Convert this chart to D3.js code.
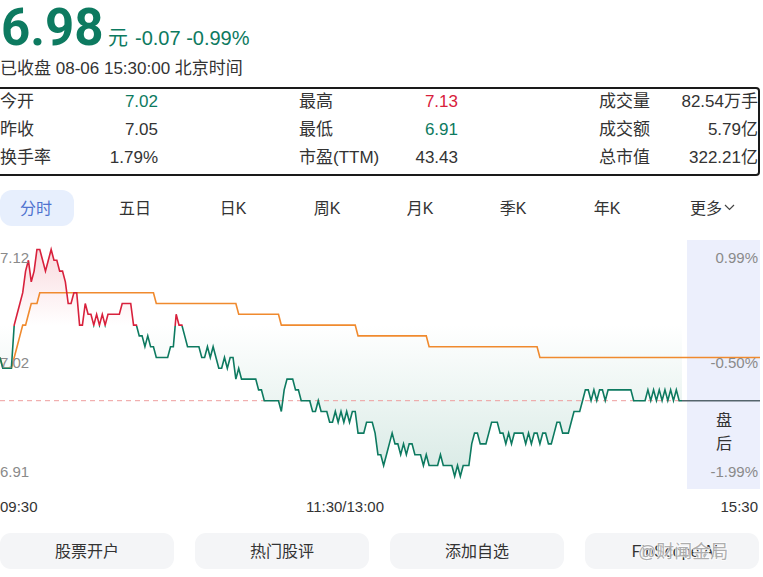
<!DOCTYPE html>
<html>
<head>
<meta charset="utf-8">
<script src="https://cdn.jsdelivr.net/npm/d3@7"></script>
<style>
  body { margin: 0; background: #fff; }
  text { font-family: "Liberation Sans", "Noto Sans CJK SC", sans-serif; }
</style>
</head>
<body>
<div id="chart"></div>
<script>
// header / quote data
var lastPrice = "6.98";
var changeText = "-0.07 -0.99%";
var statusText = "已收盘 08-06 15:30:00 北京时间";
var statLabels = [["今开", "昨收", "换手率"], ["最高", "最低", "市盈(TTM)"], ["成交量", "成交额", "总市值"]];
var statValues = [["7.02", "7.05", "1.79%"], ["7.13", "6.91", "43.43"], ["82.54万手", "5.79亿", "322.21亿"]];
var statColors = [["down", "flat", "flat"], ["up", "down", "flat"], ["flat", "flat", "flat"]];
var tabs = ["分时", "五日", "日K", "周K", "月K", "季K", "年K", "更多"];
var buttons = ["股票开户", "热门股评", "添加自选", "FinScope AI"];

// intraday minute data, 09:30-11:30 + 13:00-15:00 (241 points)
var prices = [
  7.02,7.01,7.01,7.01,7.01,7.05,7.06,7.07,7.08,7.10,
  7.11,7.09,7.10,7.12,7.12,7.11,7.10,7.11,7.12,7.11,
  7.11,7.10,7.10,7.09,7.07,7.07,7.08,7.08,7.05,7.05,
  7.07,7.06,7.06,7.05,7.06,7.05,7.06,7.05,7.06,7.06,
  7.06,7.06,7.06,7.07,7.07,7.07,7.07,7.05,7.05,7.04,
  7.04,7.03,7.04,7.03,7.03,7.02,7.02,7.02,7.02,7.02,
  7.03,7.03,7.06,7.05,7.05,7.04,7.03,7.03,7.03,7.03,
  7.03,7.02,7.02,7.03,7.02,7.03,7.02,7.01,7.01,7.02,
  7.01,7.02,7.02,7.00,7.01,7.00,7.00,7.00,7.00,7.00,
  7.00,6.99,6.99,6.98,6.98,6.98,6.98,6.98,6.98,6.97,
  6.99,7.00,7.00,7.00,6.99,6.99,6.98,6.98,6.98,6.98,
  6.97,6.97,6.98,6.97,6.97,6.97,6.96,6.96,6.97,6.96,
  6.97,6.96,6.97,6.96,6.97,6.97,6.95,6.95,6.95,6.96,
  6.96,6.96,6.95,6.93,6.93,6.92,6.93,6.94,6.95,6.94,
  6.94,6.93,6.94,6.93,6.94,6.94,6.93,6.93,6.93,6.92,
  6.93,6.92,6.92,6.92,6.92,6.93,6.92,6.92,6.92,6.92,
  6.91,6.92,6.91,6.92,6.92,6.92,6.94,6.95,6.95,6.94,
  6.94,6.94,6.95,6.96,6.96,6.96,6.95,6.95,6.94,6.95,
  6.94,6.95,6.95,6.95,6.95,6.94,6.95,6.94,6.95,6.95,
  6.94,6.95,6.95,6.94,6.94,6.95,6.96,6.96,6.95,6.95,
  6.95,6.96,6.97,6.97,6.97,6.98,6.99,6.99,6.98,6.99,
  6.98,6.99,6.99,6.98,6.99,6.99,6.99,6.99,6.99,6.99,
  6.99,6.99,6.99,6.98,6.98,6.98,6.98,6.98,6.99,6.98,
  6.99,6.98,6.99,6.98,6.99,6.98,6.99,6.98,6.99,6.98,6.98
];
var avgPrices = [
  7.02,7.01,7.01,7.01,7.01,7.02,7.03,7.04,7.05,7.05,
  7.06,7.07,7.07,7.07,7.08,7.08,7.08,7.08,7.08,7.08,
  7.08,7.08,7.08,7.08,7.08,7.08,7.08,7.08,7.08,7.08,
  7.08,7.08,7.08,7.08,7.08,7.08,7.08,7.08,7.08,7.08,
  7.08,7.08,7.08,7.08,7.08,7.08,7.08,7.08,7.08,7.08,
  7.08,7.08,7.08,7.08,7.08,7.07,7.07,7.07,7.07,7.07,
  7.07,7.07,7.07,7.07,7.07,7.07,7.07,7.07,7.07,7.07,
  7.07,7.07,7.07,7.07,7.07,7.07,7.07,7.07,7.07,7.07,
  7.07,7.07,7.07,7.07,7.06,7.06,7.06,7.06,7.06,7.06,
  7.06,7.06,7.06,7.06,7.06,7.06,7.06,7.06,7.06,7.05,
  7.05,7.05,7.05,7.05,7.05,7.05,7.05,7.05,7.05,7.05,
  7.05,7.05,7.05,7.05,7.05,7.05,7.05,7.05,7.05,7.05,
  7.05,7.05,7.05,7.05,7.05,7.05,7.04,7.04,7.04,7.04,
  7.04,7.04,7.04,7.04,7.04,7.04,7.04,7.04,7.04,7.04,
  7.04,7.04,7.04,7.04,7.04,7.04,7.04,7.04,7.04,7.04,
  7.04,7.03,7.03,7.03,7.03,7.03,7.03,7.03,7.03,7.03,
  7.03,7.03,7.03,7.03,7.03,7.03,7.03,7.03,7.03,7.03,
  7.03,7.03,7.03,7.03,7.03,7.03,7.03,7.03,7.03,7.03,
  7.03,7.03,7.03,7.03,7.03,7.03,7.03,7.03,7.03,7.03,
  7.02,7.02,7.02,7.02,7.02,7.02,7.02,7.02,7.02,7.02,
  7.02,7.02,7.02,7.02,7.02,7.02,7.02,7.02,7.02,7.02,
  7.02,7.02,7.02,7.02,7.02,7.02,7.02,7.02,7.02,7.02,
  7.02,7.02,7.02,7.02,7.02,7.02,7.02,7.02,7.02,7.02,
  7.02,7.02,7.02,7.02,7.02,7.02,7.02,7.02,7.02,7.02,7.02
];
// after-hours 15:00-15:30, every 5 min
var postMinutes = [0, 5, 10, 15, 20, 25, 30];
var postPrices = [6.98, 6.98, 6.98, 6.98, 6.98, 6.98, 6.98];
var postAvg = [7.02, 7.02, 7.02, 7.02, 7.02, 7.02, 7.02];

var prevClose = 7.05;
var closePrice = 6.98;
var leftTicks = ["7.12", "7.02", "6.91"];
var rightTicks = ["0.99%", "-0.50%", "-1.99%"];
var timeTicks = ["09:30", "11:30/13:00", "15:30"];

var RED = "#d8213c", GREEN = "#0d7a60", ORANGE = "#f08a2e", GRAY = "#8a8a8a";

var svgWidth = 763, svgHeight = 577;
var svg = d3.select("#chart").append("svg")
  .attr("width", svgWidth)
  .attr("height", svgHeight);

// ---------- header ----------
svg.append("text").attr("x", 1).attr("y", 45)
  .style("font-family", "Roboto, sans-serif")
  .attr("font-size", 51).attr("font-weight", 700).attr("fill", GREEN)
  .text(lastPrice);
svg.append("text").attr("x", 108).attr("y", 45)
  .attr("font-size", 20).attr("fill", GREEN).text("元");
svg.append("text").attr("x", 135).attr("y", 45)
  .attr("font-size", 20).attr("fill", GREEN).text(changeText);
svg.append("text").attr("x", 0).attr("y", 74)
  .attr("font-size", 17).attr("fill", "#333").text(statusText);

// stats table
svg.append("rect")
  .attr("x", -3).attr("y", 88).attr("width", 762).attr("height", 87)
  .attr("rx", 3).attr("fill", "none").attr("stroke", "#1a1a1a").attr("stroke-width", 2);

var colLabelX = [0, 299, 599], colValueX = [158, 458, 758];
var rowY = [107, 135, 163];
var colorMap = { up: RED, down: GREEN, flat: "#333" };
statLabels.forEach(function(col, c) {
  col.forEach(function(lab, r) {
    svg.append("text").attr("x", colLabelX[c]).attr("y", rowY[r])
      .attr("font-size", 17).attr("fill", "#333").text(lab);
    svg.append("text").attr("x", colValueX[c]).attr("y", rowY[r])
      .attr("font-size", 17).attr("text-anchor", "end")
      .attr("fill", colorMap[statColors[c][r]]).text(statValues[c][r]);
  });
});

// tabs
var tabX = [36, 135, 233, 327, 420, 513, 607, 706];
svg.append("rect").attr("x", 0).attr("y", 190).attr("width", 74).attr("height", 36)
  .attr("rx", 12).attr("fill", "#e7effd");
tabs.forEach(function(t, i) {
  svg.append("text").attr("x", tabX[i]).attr("y", 214)
    .attr("text-anchor", "middle").attr("font-size", 16)
    .attr("fill", i === 0 ? "#4f73cf" : "#333").text(t);
});
svg.append("path").attr("d", "M725,205 l4.5,4.5 l4.5,-4.5")
  .attr("fill", "none").attr("stroke", "#444").attr("stroke-width", 1.2);

// ---------- chart ----------
var plotTop = 240, plotBottom = 489, mainRight = 682, postRight = 760;

var x = d3.scaleLinear().domain([0, prices.length - 1]).range([0, mainRight]);
var xPost = d3.scaleLinear().domain([0, 30]).range([mainRight, postRight]);
var y = d3.scaleLinear().domain([6.90, 7.13]).range([487.1, 238.7]);

var defs = svg.append("defs");
var redGrad = defs.append("linearGradient").attr("id", "redFill")
  .attr("gradientUnits", "userSpaceOnUse")
  .attr("x1", 0).attr("x2", 0).attr("y1", y(prevClose)).attr("y2", y(7.12));
redGrad.append("stop").attr("offset", 0).attr("stop-color", "#f6c2c8").attr("stop-opacity", 0);
redGrad.append("stop").attr("offset", 1).attr("stop-color", "#f6c2c8").attr("stop-opacity", 0.6);
var greenGrad = defs.append("linearGradient").attr("id", "greenFill")
  .attr("gradientUnits", "userSpaceOnUse")
  .attr("x1", 0).attr("x2", 0).attr("y1", y(prevClose)).attr("y2", plotBottom);
greenGrad.append("stop").attr("offset", 0).attr("stop-color", "#b9d9d0").attr("stop-opacity", 0);
greenGrad.append("stop").attr("offset", 1).attr("stop-color", "#b9d9d0").attr("stop-opacity", 0.6);

var splitY = y(prevClose) + 1;
defs.append("clipPath").attr("id", "clipUp").append("rect")
  .attr("x", -5).attr("y", 0).attr("width", mainRight + 10).attr("height", splitY);
defs.append("clipPath").attr("id", "clipDown").append("rect")
  .attr("x", -5).attr("y", splitY).attr("width", mainRight + 10).attr("height", svgHeight);

// after-hours band
svg.append("rect").attr("x", 687).attr("y", plotTop)
  .attr("width", postRight - 687).attr("height", plotBottom - plotTop)
  .attr("fill", "#eceffc");

var area = d3.area().x(function(d, i) { return x(i); })
  .y0(y(prevClose)).y1(function(d) { return y(d); });
var line = d3.line().x(function(d, i) { return x(i); }).y(function(d) { return y(d); });

svg.append("path").datum(prices).attr("d", area)
  .attr("fill", "url(#redFill)").attr("clip-path", "url(#clipUp)");
svg.append("path").datum(prices).attr("d", area)
  .attr("fill", "url(#greenFill)").attr("clip-path", "url(#clipDown)");

// close price dashed line
svg.append("line").attr("x1", 0).attr("x2", mainRight)
  .attr("y1", y(closePrice)).attr("y2", y(closePrice))
  .attr("stroke", "#ee9d9d").attr("stroke-width", 1).attr("stroke-dasharray", "5,4");

// average line
svg.append("path").datum(avgPrices).attr("d", line)
  .attr("fill", "none").attr("stroke", ORANGE).attr("stroke-width", 1.6);
var postLine = d3.line().x(function(d, i) { return xPost(postMinutes[i]); }).y(function(d) { return y(d); });
svg.append("path").datum(postAvg).attr("d", postLine)
  .attr("fill", "none").attr("stroke", ORANGE).attr("stroke-width", 1.6);

// price line, red above prev close, green below
svg.append("path").datum(prices).attr("d", line)
  .attr("fill", "none").attr("stroke", RED).attr("stroke-width", 1.6)
  .attr("clip-path", "url(#clipUp)");
svg.append("path").datum(prices).attr("d", line)
  .attr("fill", "none").attr("stroke", GREEN).attr("stroke-width", 1.6)
  .attr("clip-path", "url(#clipDown)");
svg.append("path").datum(postPrices).attr("d", postLine)
  .attr("fill", "none").attr("stroke", "#55656c").attr("stroke-width", 1.6);

// axis labels
var labelY = [plotTop + 23, (plotTop + plotBottom) / 2 + 3, plotBottom - 12];
leftTicks.forEach(function(t, i) {
  svg.append("text").attr("x", 0).attr("y", labelY[i])
    .attr("font-size", 15).attr("fill", GRAY).text(t);
});
rightTicks.forEach(function(t, i) {
  svg.append("text").attr("x", 758).attr("y", labelY[i])
    .attr("text-anchor", "end").attr("font-size", 15).attr("fill", GRAY).text(t);
});
svg.append("text").attr("x", 724).attr("y", 426).attr("text-anchor", "middle")
  .attr("font-size", 16).attr("fill", "#333").text("盘");
svg.append("text").attr("x", 724).attr("y", 449).attr("text-anchor", "middle")
  .attr("font-size", 16).attr("fill", "#333").text("后");

var timeX = [0, (x(0) + x(prices.length - 1)) / 2 + 4, 758];
var timeAnchor = ["start", "middle", "end"];
timeTicks.forEach(function(t, i) {
  svg.append("text").attr("x", timeX[i]).attr("y", 512)
    .attr("text-anchor", timeAnchor[i]).attr("font-size", 15).attr("fill", "#333").text(t);
});

// bottom buttons
var btnX = [0, 195, 390, 585], btnW = 174;
buttons.forEach(function(b, i) {
  svg.append("rect").attr("x", btnX[i]).attr("y", 533).attr("width", btnW).attr("height", 36)
    .attr("rx", 11).attr("fill", "#f4f5f7");
  svg.append("text").attr("x", btnX[i] + btnW / 2 + (i === 3 ? 3 : 0)).attr("y", 557)
    .attr("text-anchor", "middle").attr("font-size", 16).attr("fill", "#333").text(b);
});

// watermark
svg.append("text").attr("x", 638).attr("y", 558)
  .attr("font-size", 18).attr("fill", "#a0a0a0").attr("fill-opacity", 0.85)
  .attr("stroke", "#fff").attr("stroke-width", 1.5).attr("stroke-opacity", 0.8)
  .attr("paint-order", "stroke")
  .text("@财闻金局");
</script>
</body>
</html>
